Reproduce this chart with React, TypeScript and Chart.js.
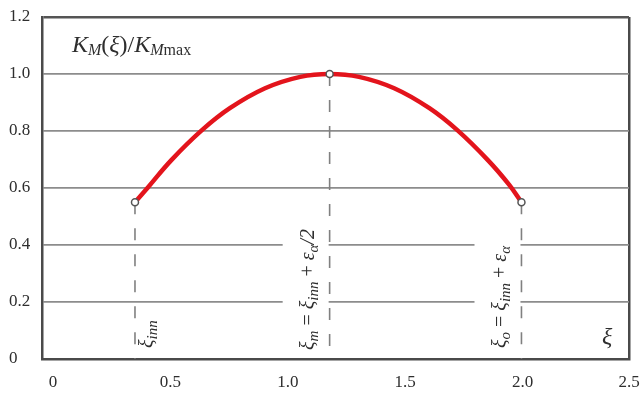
import React, { useEffect, useRef } from 'react';
import { Chart, registerables } from 'chart.js';

Chart.register(...registerables);

// ---- data ----
const curveX = [0.396, 0.45, 0.55, 0.68, 0.80, 0.95, 1.10, 1.225, 1.35, 1.50, 1.65, 1.77, 1.90, 1.99, 2.042];
const curveY = [0.55, 0.601, 0.697, 0.802, 0.88, 0.95, 0.99, 1.0, 0.99, 0.95, 0.88, 0.802, 0.697, 0.611, 0.55];

const markX = [0.396, 1.225, 2.042];
const markY = [0.55, 1.0, 0.55];

const xTicks = [0, 0.5, 1.0, 1.5, 2.0, 2.5];
const xTickLabels = ['0', '0.5', '1.0', '1.5', '2.0', '2.5'];
const yTicks = [0, 0.2, 0.4, 0.6, 0.8, 1.0, 1.2];
const yTickLabels = ['0', '0.2', '0.4', '0.6', '0.8', '1.0', '1.2'];

const titleParts = ['K', 'M', '(', 'ξ', ')/', 'K', 'M', 'max'];
const innParts = ['ξ', 'inn'];
const midParts = ['ξ', 'm', ' = ', 'ξ', 'inn', ' + ', 'ε', 'α', '/2'];
const outParts = ['ξ', 'o', ' = ', 'ξ', 'inn', ' + ', 'ε', 'α'];
const axisName = 'ξ';

// ---- styling (not data) ----
const titleKinds = ['I', 's', 'U', 'I', 'U', 'I', 's', 'S'];
const innKinds = ['I', 's'];
const midKinds = ['I', 's', 'U', 'I', 's', 'U', 'I', 's', 'I'];
const outKinds = ['I', 's', 'U', 'I', 's', 'U', 'I', 's'];

const FONT = '"Liberation Serif", "Times New Roman", serif';
const TEXT = '#2e2e2e';
const GRID = '#8c8c8c';
const FRAME = '#4a4a4a';
const RED = '#e3141c';

function drawRuns(ctx: CanvasRenderingContext2D, parts: string[], kinds: string[], x: number, y: number, main: number, sub: number, dy: number) {
  let cx = x;
  parts.forEach((p, i) => {
    const k = kinds[i];
    const isSub = k === 's' || k === 'S';
    const italic = k === 'I' || k === 's';
    ctx.font = `${italic ? 'italic ' : ''}${isSub ? sub : main}px ${FONT}`;
    ctx.fillText(p, cx, y + (isSub ? dy : 0));
    cx += ctx.measureText(p).width;
  });
}

const annotPlugin = {
  id: 'annot',
  beforeDatasetsDraw(chart: any) {
    const { ctx, scales } = chart;
    const x = scales.x;
    const y = scales.y;
    ctx.save();
    ctx.fillStyle = '#ffffff';
    [1, 2].forEach((i) => {
      const xr = x.getPixelForValue(markX[i]) - 1;
      const xl = x.getPixelForValue(markX[i] - 0.2);
      const yt = y.getPixelForValue(0.5);
      const yb = y.getPixelForValue(0.1);
      ctx.fillRect(xl, yt, xr - xl, yb - yt);
    });
    ctx.restore();
  },
  afterDraw(chart: any) {
    const { ctx, scales, chartArea } = chart;
    const x = scales.x;
    const y = scales.y;
    ctx.save();
    ctx.fillStyle = TEXT;
    ctx.textBaseline = 'alphabetic';
    ctx.textAlign = 'left';

    // title
    drawRuns(ctx, titleParts, titleKinds, chartArea.left + 30, chartArea.top + 35, 24, 16, 3);

    // rotated labels
    const y0 = y.getPixelForValue(0);
    const rot = (parts: string[], kinds: string[], bx: number, by: number) => {
      ctx.save();
      ctx.translate(bx, by);
      ctx.rotate(-Math.PI / 2);
      drawRuns(ctx, parts, kinds, 0, 0, 20, 15, 4);
      ctx.restore();
    };
    rot(innParts, innKinds, x.getPixelForValue(markX[0]) + 18, y0 - 11);
    rot(midParts, midKinds, x.getPixelForValue(markX[1]) - 16, y0 - 9);
    rot(outParts, outKinds, x.getPixelForValue(markX[2]) - 15, y0 - 11);

    // axis name
    ctx.font = `italic 24px ${FONT}`;
    ctx.fillText(axisName, chartArea.right - 27, y0 - 15);

    // x tick labels
    ctx.font = `17px ${FONT}`;
    ctx.textAlign = 'center';
    ctx.textBaseline = 'middle';
    xTicks.forEach((v, i) => {
      let px = x.getPixelForValue(v) + 11;
      px = Math.max(chartArea.left + 6, Math.min(chartArea.right, px));
      ctx.fillText(xTickLabels[i], px, y0 + 24);
    });
    ctx.restore();
  },
};

export default function App() {
  const ref = useRef<HTMLCanvasElement | null>(null);
  useEffect(() => {
    if (!ref.current) return;
    const curve = curveX.map((v, i) => ({ x: v, y: curveY[i] }));
    const marks = markX.map((v, i) => ({ x: v, y: markY[i] }));
    const drops = markX.map((v, i) => ({
      data: [{ x: v, y: markY[i] }, { x: v, y: 0 }],
      showLine: true,
      borderColor: '#808080',
      borderWidth: 1.6,
      borderDash: [12, 14],
      pointRadius: 0,
    }));
    const chart = new Chart(ref.current, {
      type: 'scatter',
      data: {
        datasets: [
          {
            data: marks,
            showLine: false,
            pointRadius: 3.5,
            pointBackgroundColor: '#ffffff',
            pointBorderColor: '#555555',
            pointBorderWidth: 1.5,
          },
          {
            data: curve,
            showLine: true,
            borderColor: RED,
            borderWidth: 4.5,
            pointRadius: 0,
            tension: 0.4,
            borderCapStyle: 'round',
          },
          ...drops,
        ] as any,
      },
      options: {
        responsive: false,
        animation: false,
        devicePixelRatio: 1,
        layout: { padding: { left: 9, top: 17, right: 12, bottom: 0 } },
        plugins: { legend: { display: false }, tooltip: { enabled: false } },
        scales: {
          x: {
            type: 'linear',
            min: 0,
            max: 2.5,
            afterBuildTicks: (s: any) => { s.ticks = xTicks.map((v) => ({ value: v })); },
            afterFit: (s: any) => { s.height = 36; s.paddingLeft = 0; s.paddingRight = 0; },
            ticks: { display: false },
            grid: {
              drawTicks: false,
              color: (c: any) => (c.tick && c.tick.value === 2.5 ? FRAME : 'rgba(0,0,0,0)'),
              lineWidth: 2.5,
            },
            border: { color: FRAME, width: 2.5 },
          },
          y: {
            type: 'linear',
            min: 0,
            max: 1.2,
            afterBuildTicks: (s: any) => { s.ticks = yTicks.map((v) => ({ value: v })); },
            afterFit: (s: any) => { s.width = 33; s.paddingTop = 0; s.paddingBottom = 0; },
            ticks: {
              crossAlign: 'far',
              color: TEXT,
              font: { family: FONT, size: 17 },
              callback: (_v: any, i: number) => yTickLabels[i],
            },
            grid: {
              drawTicks: false,
              color: (c: any) => {
                const v = c.tick ? c.tick.value : -1;
                if (v === 0) return 'rgba(0,0,0,0)';
                if (v === 1.2) return '#555555';
                return GRID;
              },
              lineWidth: (c: any) => (c.tick && c.tick.value === 1.2 ? 2.5 : 1.8),
            },
            border: { color: FRAME, width: 2.5 },
          },
        },
      } as any,
      plugins: [annotPlugin],
    });
    return () => chart.destroy();
  }, []);
  return (
    <div style={{ position: 'absolute', left: 0, top: 0, width: 641, height: 395, background: '#fff' }}>
      <canvas ref={ref} width={641} height={395} style={{ display: 'block' }} />
    </div>
  );
}
